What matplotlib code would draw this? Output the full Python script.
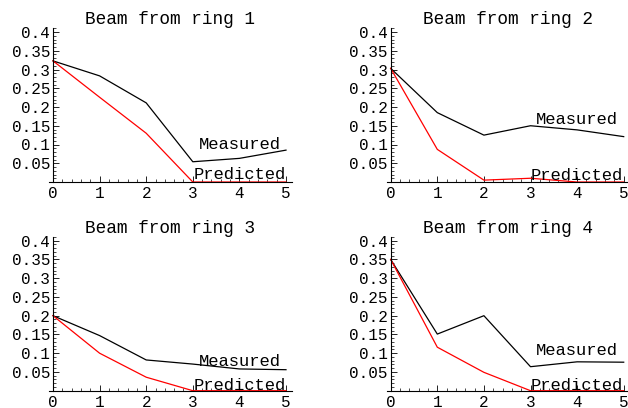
import matplotlib
matplotlib.use('Agg')
import matplotlib.pyplot as plt
from matplotlib.ticker import MultipleLocator

# Data
steps = [0, 1, 2, 3, 4, 5]
titles = ['Beam from ring 1', 'Beam from ring 2', 'Beam from ring 3', 'Beam from ring 4']
measured = [
    [0.323, 0.283, 0.211, 0.054, 0.063, 0.085],
    [0.303, 0.185, 0.125, 0.150, 0.139, 0.121],
    [0.200, 0.147, 0.082, 0.071, 0.058, 0.056],
    [0.350, 0.151, 0.200, 0.064, 0.077, 0.076],
]
predicted = [
    [0.323, 0.226, 0.130, 0.0, 0.0, 0.0],
    [0.303, 0.087, 0.005, 0.010, 0.0, 0.0],
    [0.200, 0.100, 0.036, 0.0, 0.0, 0.0],
    [0.350, 0.116, 0.049, 0.0, 0.0, 0.0],
]
yticks = [0.05, 0.1, 0.15, 0.2, 0.25, 0.3, 0.35, 0.4]
ytick_labels = ['0.05', '0.1', '0.15', '0.2', '0.25', '0.3', '0.35', '0.4']
xticks = [0, 1, 2, 3, 4, 5]
xtick_labels = ['0', '1', '2', '3', '4', '5']

# where the curve labels sit (data coords)
label_x = 4.0
measured_label_y = [0.099, 0.168, 0.077, 0.107]
predicted_label_y = [0.019, 0.017, 0.015, 0.015]

plt.rcParams['font.family'] = ['Liberation Mono', 'DejaVu Sans Mono']
plt.rcParams['font.size'] = 11.5

W, H = 628, 408
fig = plt.figure(figsize=(W / 100, H / 100), dpi=100)

# pixel origin (x of data 0, y of data 0 from top) of each panel
origins = [(53, 182), (390.7, 182), (53, 390.7), (390.7, 390.7)]
px_per_x = 46.6
px_per_y = 375.0
xlim = (-0.08, 5.12)
ylim = (0, 0.41)

for i in range(4):
    ox, oy = origins[i]
    left = ox + xlim[0] * px_per_x
    width = (xlim[1] - xlim[0]) * px_per_x
    height = (ylim[1] - ylim[0]) * px_per_y
    ax = fig.add_axes([left / W, (H - oy) / H, width / W, height / H])
    ax.set_facecolor('none')

    ax.plot(steps, measured[i], color='black', lw=0.9)
    ax.plot(steps, predicted[i], color='red', lw=0.9)
    ax.text(label_x, measured_label_y[i], 'Measured', ha='center', va='center', fontsize=12.3)
    ax.text(label_x, predicted_label_y[i], 'Predicted', ha='center', va='center', fontsize=12.3)

    ax.set_xlim(*xlim)
    ax.set_ylim(*ylim)
    for s in ['top', 'right']:
        ax.spines[s].set_visible(False)
    ax.spines['left'].set_position(('data', 0))
    ax.spines['left'].set_linewidth(0.8)
    ax.spines['bottom'].set_linewidth(0.8)

    ax.set_xticks(xticks)
    ax.set_xticklabels(xtick_labels)
    ax.set_yticks(yticks)
    ax.set_yticklabels(ytick_labels)
    ax.xaxis.set_minor_locator(MultipleLocator(0.2))
    ax.yaxis.set_minor_locator(MultipleLocator(0.01))
    ax.tick_params(which='major', direction='in', length=4, width=0.6, pad=3)
    ax.tick_params(which='minor', direction='in', length=2, width=0.5)
    ax.tick_params(axis='y', which='major', pad=2)

    ax.set_title(titles[i], fontsize=12.8, pad=0)

fig.savefig('out.png', dpi=100)
